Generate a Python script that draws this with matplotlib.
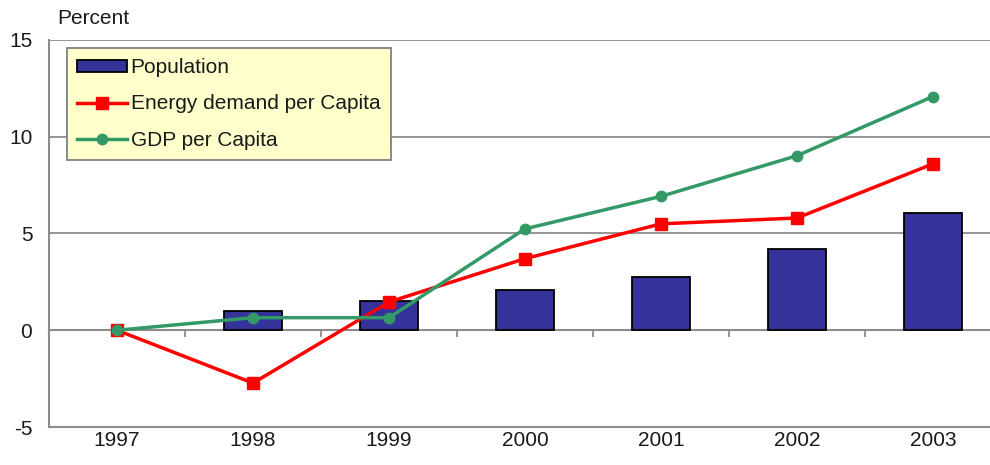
import matplotlib
matplotlib.use("Agg")
import matplotlib.pyplot as plt
import numpy as np
from matplotlib.ticker import FixedLocator

plt.rcParams['font.family'] = ['Liberation Sans', 'DejaVu Sans']
plt.rcParams['text.color'] = '#1a1a1a'
plt.rcParams['xtick.labelcolor'] = '#1a1a1a'
plt.rcParams['ytick.labelcolor'] = '#1a1a1a'

years = ['1997', '1998', '1999', '2000', '2001', '2002', '2003']
population = [0.0, 1.0, 1.5, 2.1, 2.75, 4.2, 6.05]
energy = [0.0, -2.73, 1.46, 3.7, 5.5, 5.8, 8.6]
gdp = [0.0, 0.65, 0.65, 5.24, 6.92, 9.02, 12.08]
yticks = [-5, 0, 5, 10, 15]

FS = 15
fig = plt.figure(figsize=(9.9, 4.65), dpi=100)
ax = fig.add_axes([49/990, 38/465, 952/990, 387/465])

x = np.arange(len(years))
grid_c = '#8c8c8c'

bars = ax.bar(x, population, width=0.42, color='#333399', edgecolor='black',
              linewidth=[0 if v == 0 else 1.3 for v in population],
              zorder=3, label='Population')
l1, = ax.plot(x, energy, color='#ff0000', lw=2.5, marker='s', markersize=8,
              zorder=4, label='Energy demand per Capita')
l2, = ax.plot(x, gdp, color='#339966', lw=2.5, marker='o', markersize=7.5,
              zorder=5, label='GDP per Capita')

ax.set_xlim(-0.5, len(years) - 0.5)
ax.set_ylim(-5, 15)
ax.set_yticks(yticks)
ax.set_yticklabels([str(v) for v in yticks], fontsize=FS)
ax.tick_params(axis='y', length=0, pad=12)
ax.yaxis.grid(True, color=grid_c, lw=1.3, zorder=0)
ax.set_axisbelow(True)

ax.spines['bottom'].set_position(('data', 0))
ax.spines['bottom'].set_color(grid_c)
ax.spines['bottom'].set_linewidth(1.5)
ax.spines['bottom'].set_zorder(2)
ax.set_xticks([])
ax.xaxis.set_minor_locator(FixedLocator(x[:-1] + 0.5))
ax.tick_params(axis='x', which='minor', direction='out', length=5,
               color=grid_c, width=1.3)
ax.spines['top'].set_visible(False)
ax.spines['right'].set_visible(False)
ax.spines['left'].set_color(grid_c)
ax.spines['left'].set_linewidth(1.5)

sec = ax.secondary_xaxis(0)
sec.set_xticks(x)
sec.set_xticklabels(years, fontsize=FS)
sec.tick_params(length=0, pad=3)
sec.spines['bottom'].set_color(grid_c)
sec.spines['bottom'].set_linewidth(1.5)

fig.text(57/990, 1 - 18/465, 'Percent', fontsize=FS, va='center', ha='left')

leg = ax.legend(handles=[bars.patches[-1], l1, l2],
                labels=['Population', 'Energy demand per Capita', 'GDP per Capita'],
                loc='upper left', bbox_to_anchor=(18/952, 1 - 8/387),
                borderaxespad=0, fontsize=FS, frameon=True, fancybox=False,
                facecolor='#ffffcc', edgecolor='#808080', framealpha=1,
                handlelength=2.4, handleheight=0.55, handletextpad=0.15,
                labelspacing=0.82, borderpad=0.5)
leg.get_frame().set_linewidth(1.3)
leg.set_zorder(10)

fig.savefig('out.png', dpi=100)
